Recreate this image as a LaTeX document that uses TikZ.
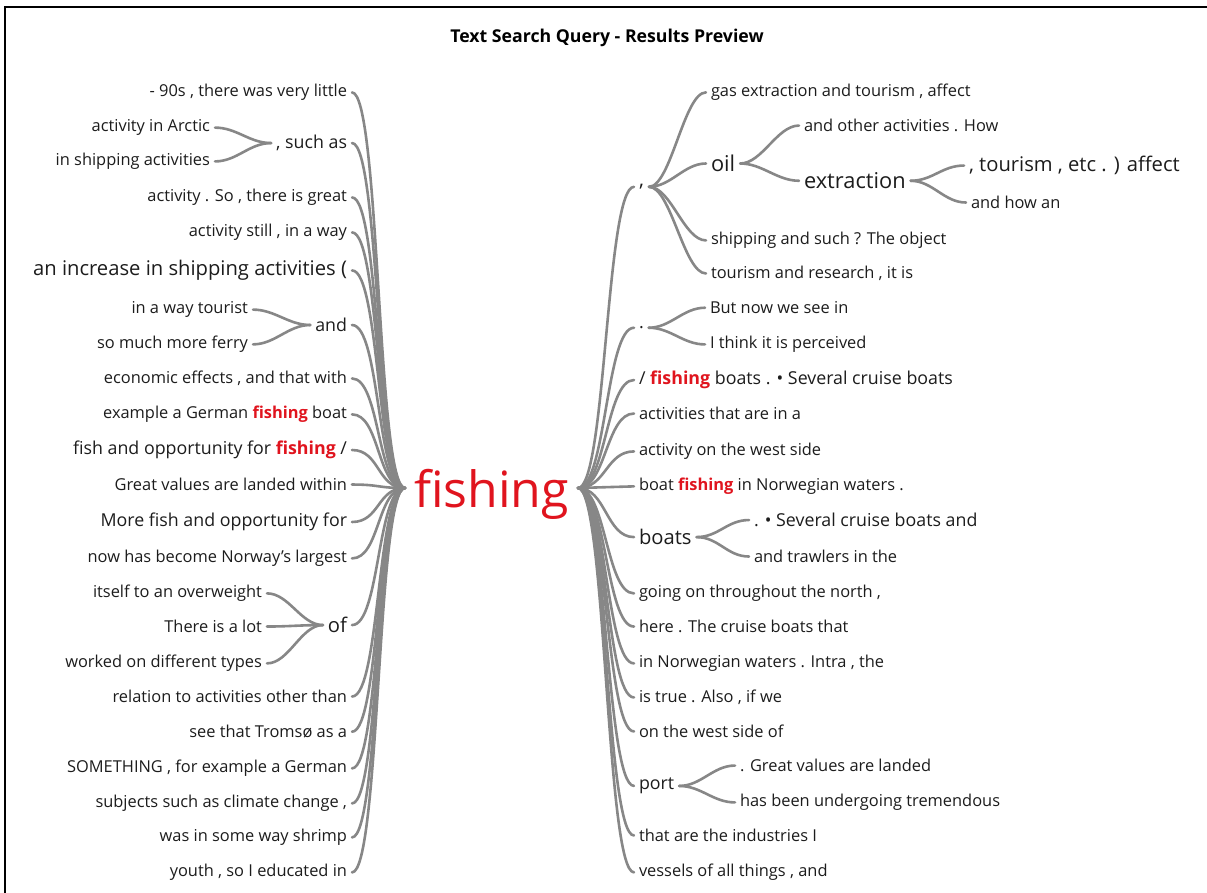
\documentclass[tikz,border=0pt]{standalone}
\usepackage{fontspec}
\setmainfont{Open Sans}
\definecolor{txt}{HTML}{1C1C1C}
\definecolor{lin}{HTML}{878787}
\definecolor{hlred}{HTML}{E0141E}
\newcommand\myfs[1]{\fontsize{#1}{#1}\selectfont}
\newcommand\hl[1]{\textcolor{hlred}{\bfseries #1}}
\begin{document}
\begin{tikzpicture}[x=1pt,y=-1pt,
  every node/.style={text=txt, inner sep=3pt, outer sep=2pt},
  lf/.style={anchor=mid east, yshift=-4pt},
  rt/.style={anchor=mid west, yshift=-4pt},
  sa/.style={font=\myfs{16.4}},
  sb/.style={font=\myfs{17.8}},
  sc/.style={font=\myfs{20.2}},
  sd/.style={font=\myfs{21.8}},
  conn/.style={draw=lin, line width=2.6pt, line cap=round}]
\useasboundingbox (0,0) rectangle (1207,893);
\draw[line width=1.6pt, black] (5,893) -- (5,7) -- (1207,7);
\node[font=\myfs{17.7}\bfseries, text=black] (title) at (607,38) {Text Search Query - Results Preview};
% root
\node[font=\myfs{50}, text=hlred, anchor=base, inner sep=0pt] (root) at (491.5,507) {fishing};
\coordinate (rl) at (405,488);
\coordinate (rr) at (578,488);
% ---------- left side ----------
\node[lf,sa] (L1) at (352,90) {- 90s , there was very little};
\node[lf,sb] (L2) at (352,142) {, such as};
\node[lf,sa] (L2a) at (215,125) {activity in Arctic};
\node[lf,sa] (L2b) at (215,159) {in shipping activities};
\node[lf,sa] (L3) at (352,195) {activity . So , there is great};
\node[lf,sa] (L4) at (352,230) {activity still , in a way};
\node[lf,sc] (L5) at (352,269) {an increase in shipping activities (};
\node[lf,sb] (L6) at (352,325) {and};
\node[lf,sa] (L6a) at (253,307) {in a way tourist};
\node[lf,sa] (L6b) at (253,342) {so much more ferry};
\node[lf,sa] (L7) at (352,377) {economic effects , and that with};
\node[lf,sa] (L8) at (352,412) {example a German \hl{fishing} boat};
\node[lf,sb] (L9) at (352,448) {fish and opportunity for \hl{fishing} /};
\node[lf,sa] (L10) at (352,484) {Great values are landed within};
\node[lf,sb] (L11) at (352,520) {More fish and opportunity for};
\node[lf,sa] (L12) at (352,556) {now has become Norway's largest};
\node[lf,sc] (L13) at (352,626) {of};
\node[lf,sa] (L13a) at (267,591) {itself to an overweight};
\node[lf,sa] (L13b) at (267,626) {There is a lot};
\node[lf,sa] (L13c) at (267,661) {worked on different types};
\node[lf,sa] (L14) at (352,696) {relation to activities other than};
\node[lf,sa] (L15) at (352,731) {see that Tromsø as a};
\node[lf,sa] (L16) at (352,766) {SOMETHING , for example a German};
\node[lf,sa] (L17) at (352,801) {subjects such as climate change ,};
\node[lf,sa] (L18) at (352,835) {was in some way shrimp};
\node[lf,sa] (L19) at (352,870) {youth , so I educated in};
% ---------- right side ----------
\node[rt,sc] (R1) at (634,180) {,};
\node[rt,sa] (R1a) at (706,90) {gas extraction and tourism , affect};
\node[rt,sd] (R1b) at (706,165) {oil};
\node[rt,sa] (R1b1) at (799,125) {and other activities . How};
\node[rt,sd] (R1b2) at (799,182) {extraction};
\node[rt,sc] (R1b2a) at (964,165) {, tourism , etc . ) affect};
\node[rt,sa] (R1b2b) at (966,202) {and how an};
\node[rt,sa] (R1c) at (706,238) {shipping and such ? The object};
\node[rt,sa] (R1d) at (706,272) {tourism and research , it is};
\node[rt,sb] (R2) at (634,322) {.};
\node[rt,sa] (R2a) at (705,307) {But now we see in};
\node[rt,sa] (R2b) at (705,342) {I think it is perceived};
\node[rt,sb] (R3) at (634,378) {/ \hl{fishing} boats . \textbullet\ Several cruise boats};
\node[rt,sa] (R4) at (634,413) {activities that are in a};
\node[rt,sa] (R5) at (634,449) {activity on the west side};
\node[rt,sa] (R6) at (634,484) {boat \hl{fishing} in Norwegian waters .};
\node[rt,sc] (R7) at (634,538) {boats};
\node[rt,sb] (R7a) at (749,520) {. \textbullet\ Several cruise boats and};
\node[rt,sa] (R7b) at (749,556) {and trawlers in the};
\node[rt,sa] (R8) at (634,591) {going on throughout the north ,};
\node[rt,sa] (R9) at (634,626) {here . The cruise boats that};
\node[rt,sa] (R10) at (634,661) {in Norwegian waters . Intra , the};
\node[rt,sa] (R11) at (634,696) {is true . Also , if we};
\node[rt,sa] (R12) at (634,731) {on the west side of};
\node[rt,sb] (R13) at (634,783) {port};
\node[rt,sa] (R13a) at (735,765) {. Great values are landed};
\node[rt,sa] (R13b) at (735,800) {has been undergoing tremendous};
\node[rt,sa] (R14) at (634,835) {that are the industries I};
\node[rt,sa] (R15) at (634,870) {vessels of all things , and};
% ---------- connectors ----------
\foreach \n in {L1,L2,L3,L4,L5,L6,L7,L8,L9,L10,L11,L12,L13,L14,L15,L16,L17,L18,L19}
  \draw[conn] (rl) .. controls +(-28,0) and +(28,0) .. (\n.east);
\foreach \n in {R1,R2,R3,R4,R5,R6,R7,R8,R9,R10,R11,R12,R13,R14,R15}
  \draw[conn] (rr) .. controls +(28,0) and +(-28,0) .. (\n.west);
\foreach \p/\c in {L2/L2a,L2/L2b,L6/L6a,L6/L6b,L13/L13a,L13/L13b,L13/L13c}
  \draw[conn] (\p.west) .. controls +(-22,0) and +(22,0) .. (\c.east);
\foreach \p/\c in {R1/R1a,R1/R1b,R1/R1c,R1/R1d,R1b/R1b1,R1b/R1b2,R1b2/R1b2a,R1b2/R1b2b,R2/R2a,R2/R2b,R7/R7a,R7/R7b,R13/R13a,R13/R13b}
  \draw[conn] (\p.east) .. controls +(22,0) and +(-22,0) .. (\c.west);
\end{tikzpicture}
\end{document}
